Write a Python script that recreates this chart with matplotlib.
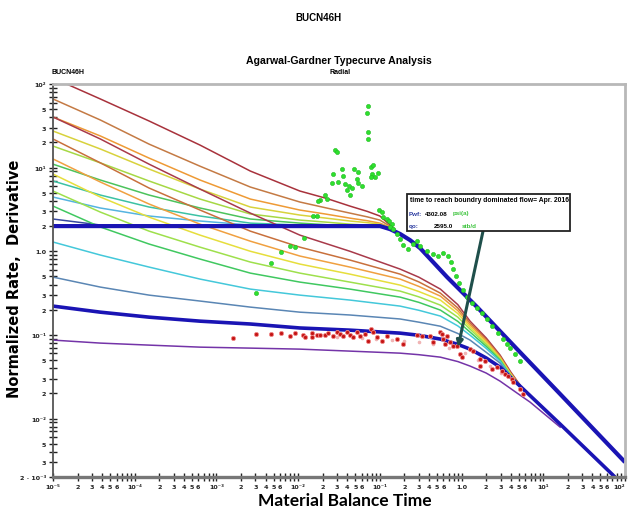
import math
import matplotlib
matplotlib.use("Agg")
import matplotlib.pyplot as plt
from matplotlib.ticker import FixedLocator, FuncFormatter, NullLocator
from matplotlib.patches import Rectangle

# ---- type curves: upper family (flattening into the q = 2 stem) ----
t_upper = [1e-5, 3.8e-5, 1.5e-4, 6.3e-4, 2.6e-3, 0.0105, 0.022, 0.043, 0.07, 0.10, 0.15]
upper_curves = [
    [118, 66.2, 36.1, 18.6, 9.10, 5.25, 4.3, 3.47, 3.0, 2.64, 1.86],
    [66.2, 37.1, 19.1, 10.4, 5.86, 3.88, 3.3, 2.86, 2.58, 2.36, 1.86],
    [40.3, 23.9, 13.0, 7.11, 4.21, 3.11, 2.78, 2.49, 2.32, 2.17, 1.86],
    [27.4, 16.7, 9.62, 5.54, 3.38, 2.71, 2.49, 2.30, 2.20, 2.11, 1.86],
    [18.1, 11.4, 6.92, 4.21, 2.79, 2.36, 2.23, 2.11, 2.05, 2.00, 1.86],
    [11.0, 7.11, 4.70, 3.29, 2.43, 2.17, 2.08, 2.00, 1.97, 1.95, 1.86],
    [6.92, 4.70, 3.38, 2.64, 2.17, 2.06, 2.02, 1.98, 1.96, 1.95, 1.86],
    [4.45, 3.29, 2.64, 2.30, 2.06, 2.00, 1.99, 1.98, 1.96, 1.95, 1.86],
]
t_navy = [1e-5, 3.8e-5, 1.5e-4]
rate_navy = [2.43, 2.06, 2.0]

# ---- type curves: lower family (converging into the lower stem) ----
t_lower = [1e-5, 3.8e-5, 1.5e-4, 6.3e-4, 2.6e-3, 0.0105, 0.043, 0.177, 0.3, 0.55, 0.9, 1.27,
           2.0, 2.96, 4.0, 5.2]
lower_curves = [
    [40.3, 22.0, 11.0, 5.54, 2.86, 1.56, 1.00, 0.612, 0.49, 0.353, 0.23, 0.146, 0.092, 0.0573, 0.036, 0.0251],
    [22.0, 11.4, 5.70, 3.11, 1.74, 1.12, 0.785, 0.533, 0.43, 0.316, 0.21, 0.138, 0.088, 0.0557, 0.035, 0.0251],
    [12.7, 6.73, 3.67, 2.11, 1.32, 0.877, 0.647, 0.465, 0.38, 0.291, 0.195, 0.131, 0.085, 0.0542, 0.034, 0.0244],
    [8.38, 4.45, 2.56, 1.56, 1.00, 0.703, 0.533, 0.394, 0.33, 0.261, 0.18, 0.124, 0.081, 0.0527, 0.034, 0.0244],
    [5.25, 2.94, 1.74, 1.12, 0.743, 0.548, 0.428, 0.334, 0.285, 0.227, 0.163, 0.117, 0.077, 0.0513, 0.033, 0.0244],
    [3.47, 1.95, 1.22, 0.807, 0.548, 0.428, 0.353, 0.283, 0.245, 0.198, 0.145, 0.108, 0.073, 0.0499, 0.032, 0.0238],
    [1.29, 0.901, 0.647, 0.465, 0.353, 0.299, 0.261, 0.221, 0.197, 0.168, 0.128, 0.0993, 0.069, 0.0485, 0.032, 0.0238],
    [0.491, 0.373, 0.299, 0.254, 0.215, 0.187, 0.173, 0.155, 0.142, 0.127, 0.104, 0.0867, 0.062, 0.0460, 0.031, 0.0238],
]

# ---- stems ----
t_stem_up = [1e-5, 0.1005, 0.133, 0.177, 0.234, 0.311, 0.665, 1.55, 4.78, 16.1, 100]
q_stem_up = [2.0, 2.0, 1.84, 1.61, 1.36, 1.09, 0.491, 0.215, 0.0676, 0.0196, 0.00301]

t_stem_lo = [1e-5, 3.8e-5, 1.5e-4, 6.3e-4, 2.6e-3, 0.0105, 0.043, 0.177, 0.3, 0.55, 0.9, 1.27, 2.0,
             2.96, 4.0, 5.2, 16.1, 75.7]
q_stem_lo = [0.221, 0.187, 0.163, 0.146, 0.135, 0.121, 0.114, 0.105, 0.099, 0.0891, 0.077, 0.0676, 0.053,
             0.0412, 0.031, 0.0244, 0.00857, 0.00199]

t_purple = [1e-5, 3.8e-5, 1.5e-4, 6.3e-4, 2.6e-3, 0.0105, 0.043, 0.177, 0.3, 0.55, 0.9, 1.27, 2.0,
            2.96, 4.5, 6.9, 16.1]
q_purple = [0.0867, 0.0798, 0.0755, 0.0714, 0.0695, 0.0676, 0.0640, 0.0605, 0.058, 0.0542, 0.048, 0.0424,
            0.035, 0.0280, 0.021, 0.0157, 0.00789]

# ---- measured data ----
deriv_t = [0.0718, 0.0697, 0.0718, 0.0718, 0.0283, 0.0299, 0.0344, 0.0267, 0.0355, 0.0483, 0.0541,
           0.0260, 0.0308, 0.0375, 0.0420, 0.0457, 0.0526, 0.0541, 0.0605, 0.0397, 0.0432, 0.0780,
           0.0826, 0.0803, 0.0874, 0.0951, 0.0780, 0.0213, 0.0185, 0.0226, 0.0152, 0.0170, 0.0175,
           0.0978, 0.106, 0.109, 0.122, 0.130, 0.141, 0.133,
           0.0118, 0.00796, 0.00916, 0.00618, 0.00466, 0.00305,
           0.145, 0.162, 0.177, 0.192, 0.221, 0.255, 0.285, 0.311, 0.379, 0.448, 0.516, 0.594,
           0.684, 0.744, 0.787, 0.857, 0.932, 1.04, 1.17, 1.34, 1.55, 1.78, 2.05, 2.36, 2.80,
           3.22, 3.61, 3.93, 4.52, 5.20]
deriv_q = [54.6, 45.0, 26.7, 22.0, 16.3, 15.4, 9.62, 8.38, 7.94, 9.62, 8.85,
           6.55, 6.73, 6.37, 6.03, 5.70, 7.31, 6.55, 6.03, 5.40, 4.70, 10.2,
           10.7, 8.38, 7.73, 8.61, 7.73, 4.70, 4.09, 4.21, 2.64, 2.64, 3.98,
           3.11, 2.94, 2.56, 2.43, 2.30, 2.11, 1.95,
           1.44, 1.15, 1.12, 0.977, 0.723, 0.316,
           1.84, 1.61, 1.40, 1.19, 1.06, 1.22, 1.32, 1.15, 1.00, 0.925, 0.877, 0.952,
           0.877, 0.743, 0.612, 0.505, 0.417, 0.344, 0.283, 0.240, 0.209, 0.182, 0.155, 0.127, 0.105,
           0.0891, 0.0776, 0.0695, 0.0589, 0.0485]

rate_t = [0.00160, 0.00305, 0.00466, 0.00618, 0.00796, 0.00916, 0.0115, 0.0121, 0.0148, 0.0148,
          0.0170, 0.0185, 0.0213, 0.0232, 0.0267, 0.0299, 0.0326, 0.0355, 0.0397, 0.0432, 0.0470,
          0.0526, 0.0573, 0.0659, 0.0718, 0.0780, 0.0826, 0.0925, 0.106, 0.122, 0.162, 0.192,
          0.285, 0.328, 0.411, 0.448, 0.546, 0.577, 0.594, 0.628, 0.665, 0.723, 0.787, 0.881,
          0.959, 1.01, 1.27, 1.38, 1.69, 1.69, 1.94, 2.36, 2.72, 3.13, 3.41, 3.71, 4.15, 4.27,
          5.20, 5.66]
rate_q = [0.0916, 0.102, 0.102, 0.105, 0.0968, 0.105, 0.0993, 0.0942, 0.105, 0.0942,
          0.0993, 0.0993, 0.0993, 0.105, 0.0968, 0.108, 0.102, 0.0968, 0.108, 0.0993, 0.0942,
          0.108, 0.0968, 0.102, 0.0843, 0.117, 0.108, 0.0942, 0.0843, 0.0968, 0.0891, 0.0776,
          0.0993, 0.0968, 0.0968, 0.0820, 0.108, 0.102, 0.0891, 0.0776, 0.0968, 0.0820, 0.0735, 0.0735,
          0.0589, 0.0542, 0.0676, 0.0640, 0.0513, 0.0424, 0.0485, 0.0390, 0.0412, 0.0369, 0.0340,
          0.0321, 0.0296, 0.0272, 0.0225, 0.0196]

faint_t = [0.03, 0.06, 0.09, 0.14, 0.20, 0.30, 0.45, 0.70, 1.1, 1.6, 2.2, 3.0]
faint_q = [0.095, 0.092, 0.090, 0.088, 0.085, 0.083, 0.078, 0.070, 0.060, 0.050, 0.043, 0.035]

# arrow from the note box to the end of transient flow
arrow_tail = (1.83, 1.74)
arrow_head = (0.906, 0.0714)

upper_colors = ["#a8323c", "#c47a44", "#ee9a35", "#d8d23c", "#a6d844", "#4cc35c", "#3cc2a4", "#55b4e0"]
lower_colors = ["#a83a4a", "#c8703c", "#f0a040", "#e6de3c", "#9ee04c", "#40c860", "#44c8da", "#5a86b4"]

W, H = 628, 510
fig = plt.figure(figsize=(W / 100, H / 100), dpi=100)
ax = fig.add_axes([53 / W, 1 - 478 / H, 572 / W, 393 / H])

for q, c in zip(upper_curves, upper_colors):
    ax.plot(t_upper, q, color=c, lw=1.1)
ax.plot(t_navy, rate_navy, color="#3848a0", lw=1.1)
for q, c in zip(lower_curves, lower_colors):
    ax.plot(t_lower, q, color=c, lw=1.1)

ax.plot(t_purple, q_purple, color="#7434a8", lw=1.1)
ax.plot(t_stem_up, q_stem_up, color="#1a14b4", lw=3.0, solid_capstyle="butt")
ax.plot(t_stem_lo, q_stem_lo, color="#1a14b4", lw=2.6, solid_capstyle="butt")

ax.plot(faint_t, faint_q, ls="none", marker="o", ms=1.6, color="#f0b4b4", zorder=4)
ax.plot(deriv_t, deriv_q, ls="none", marker="o", ms=3.0, color="#2ee02e", mec="#22b822", mew=0.4, zorder=5)
ax.plot(rate_t, rate_q, ls="none", marker="o", ms=3.0, color="#c41414", mec="#f08a8a", mew=0.6, zorder=5)

ax.annotate("", xy=arrow_head, xytext=arrow_tail, zorder=8,
            arrowprops=dict(arrowstyle="-|>", color="#1f4f4b", lw=2.2, mutation_scale=9,
                            shrinkA=0, shrinkB=0))

ax.set_xscale("log")
ax.set_yscale("log")
ax.set_xlim(1e-5, 100)
ax.set_ylim(2e-3, 100)

SUP = str.maketrans("-0123456789", "⁻⁰¹²³⁴⁵⁶⁷⁸⁹")


def fmt(v, keep):
    e = math.floor(math.log10(v) + 1e-9)
    m = int(round(v / 10 ** e))
    if m == 10:
        m, e = 1, e + 1
    if m == 1:
        return "1.0" if e == 0 else "10" + str(e).translate(SUP)
    if m in keep:
        return str(m)
    return ""


yticks = [m * 10.0 ** e for e in range(-3, 3) for m in range(1, 10) if 2e-3 * 0.999 <= m * 10.0 ** e <= 100.1]
xticks = [m * 10.0 ** e for e in range(-5, 3) for m in range(1, 10) if m * 10.0 ** e <= 100.1]


def yfmt(v, pos):
    if abs(v - 2e-3) < 1e-6:
        return "2 · 10⁻³"
    return fmt(v, (2, 3, 5))


ax.yaxis.set_major_locator(FixedLocator(yticks))
ax.xaxis.set_major_locator(FixedLocator(xticks))
ax.yaxis.set_minor_locator(NullLocator())
ax.xaxis.set_minor_locator(NullLocator())
ax.yaxis.set_major_formatter(FuncFormatter(yfmt))
ax.xaxis.set_major_formatter(FuncFormatter(lambda v, p: fmt(v, (2, 3, 4, 5, 6))))
ax.tick_params(direction="inout", length=6, width=1.0, color="#222222", pad=2,
               labelsize=4.6, labelcolor="#222222")
fig.canvas.draw()
for lab in ax.get_xticklabels() + ax.get_yticklabels():
    lab.set_fontweight("bold")
# the last x label sits on the right frame; keep it inside the canvas
ax.get_xticklabels()[-1].set_horizontalalignment("right")

for side in ("top", "right"):
    ax.spines[side].set_color("#b8b8b8")
    ax.spines[side].set_linewidth(2.0)
ax.spines["left"].set_color("#555555")
ax.spines["left"].set_linewidth(1.3)
ax.spines["bottom"].set_color("#777777")
ax.spines["bottom"].set_linewidth(2.4)

# titles
fig.text(318 / W, 1 - 18 / H, "BUCN46H", ha="center", va="center", fontsize=7,
         fontweight="bold", family="Liberation Sans")
fig.text(339 / W, 1 - 61 / H, "Agarwal-Gardner Typecurve Analysis", ha="center", va="center",
         fontsize=7.6, fontweight="bold", family="Liberation Sans")
fig.text(340 / W, 1 - 73 / H, "Radial", ha="center", va="center", fontsize=5,
         fontweight="bold", family="Liberation Sans")
fig.text(52 / W, 1 - 73 / H, "BUCN46H", ha="left", va="center", fontsize=5,
         fontweight="bold", family="Liberation Sans")

fig.text(15 / W, 1 - 279 / H, "Normalized Rate,  Derivative", rotation=90, ha="center",
         va="center", fontsize=10.5, fontweight="bold", family="DejaVu Sans")
fig.text(345 / W, 1 - 501 / H, "Material Balance Time", ha="center", va="center",
         fontsize=12.5, fontweight="bold", family="Lato")

# note box
fig.patches.append(Rectangle((407 / W, 1 - 232 / H), 163 / W, 37 / H, transform=fig.transFigure,
                             facecolor="white", edgecolor="#222222", lw=1.3, zorder=9))
box_font = dict(fontsize=4.9, fontweight="bold", family="Liberation Sans", va="center", zorder=10)
small_font = dict(box_font, fontsize=4.5)
fig.text(410 / W, 1 - 201 / H, "time to reach boundry dominated flow= Apr. 2016", color="black", **box_font)
fig.text(409 / W, 1 - 214 / H, "Pwf:", color="#2a3aa0", **small_font)
fig.text(425 / W, 1 - 214 / H, "4302.08", color="black", **small_font)
fig.text(453 / W, 1 - 214 / H, "psi(a)", color="#3cc43c", **small_font)
fig.text(409 / W, 1 - 227 / H, "qo:", color="#2a3aa0", **small_font)
fig.text(434 / W, 1 - 227 / H, "2595.0", color="black", **small_font)
fig.text(462 / W, 1 - 227 / H, "stb/d", color="#3cc43c", **small_font)

fig.savefig("out.png", dpi=100)
